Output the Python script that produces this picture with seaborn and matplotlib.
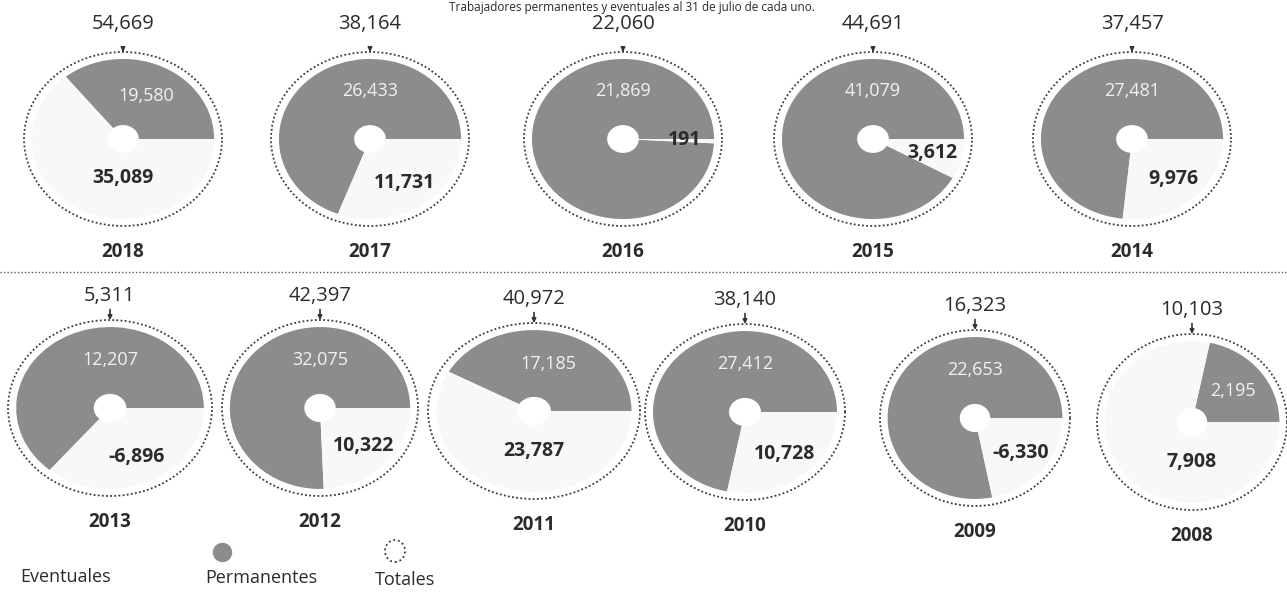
import matplotlib
matplotlib.use('Agg')
import numpy as np
import matplotlib.pyplot as plt
from matplotlib.lines import Line2D
from matplotlib.patches import Ellipse
import seaborn as sns

# datos: trabajadores permanentes y eventuales (variacion al 31 de julio)
anios_arriba = [2018, 2017, 2016, 2015, 2014]
perm_arriba = [19580, 26433, 21869, 41079, 27481]
event_arriba = [35089, 11731, 191, 3612, 9976]

anios_abajo = [2013, 2012, 2011, 2010, 2009, 2008]
perm_abajo = [12207, 32075, 17185, 27412, 22653, 2195]
event_abajo = [-6896, 10322, 23787, 10728, -6330, 7908]

leyenda = ['Eventuales', 'Permanentes', 'Totales']

sns.set_theme(style='white')
plt.rcParams['font.family'] = ['Open Sans', 'DejaVu Sans']

gris = '#8c8c8c'
blanco = '#f8f8f8'
texto = '#2b2b2b'

W, H = 1287, 592
fig = plt.figure(figsize=(W / 100, H / 100), dpi=100)
fig.patch.set_facecolor('white')


def caja(cx, cy, w, h, m=1.04):
    # rectangulo en pixeles (desde arriba) -> fraccion de figura
    w2, h2 = w * m, h * m
    return [(cx - w2 / 2) / W, 1 - (cy + h2 / 2) / H, w2 / W, h2 / H]


def angulo_etiqueta(cuna, defecto):
    abertura = cuna.theta2 - cuna.theta1
    if abertura > 180:
        return defecto
    return (cuna.theta1 + cuna.theta2) / 2


def dibujar_pastel(rect, anio, perm, event, y_total=1.32, y_anio=-1.3):
    ax = fig.add_axes(rect)
    total = perm + event

    # anillo punteado de totales
    ax.pie([total], radius=1.0, colors=['none'], startangle=90,
           wedgeprops=dict(fill=False, edgecolor='#3a3a3a',
                           linestyle=(0, (1, 1.3)), linewidth=1.3))
    cunas, _ = ax.pie([abs(perm), abs(event)], radius=0.92, colors=[gris, blanco],
                      startangle=0, counterclock=True, wedgeprops=dict(linewidth=0))
    ax.pie([1], radius=0.16, colors=['white'], wedgeprops=dict(linewidth=0))

    ax.set_aspect('auto')
    ax.set_xlim(-1.04, 1.04)
    ax.set_ylim(-1.04, 1.04)
    ax.axis('off')

    a = np.deg2rad(angulo_etiqueta(cunas[0], 90))
    ax.text(0.55 * np.cos(a), 0.55 * np.sin(a), f'{perm:,}', color='#f2f2f2',
            fontsize=13, ha='center', va='center')
    a = np.deg2rad(angulo_etiqueta(cunas[1], 270))
    r = 0.62 if abs(np.cos(a)) > 0.2 else 0.45
    ax.text(r * np.cos(a), r * np.sin(a), f'{event:,}', color=texto,
            fontsize=14, fontweight='bold', ha='center', va='center')

    ax.annotate(f'{total:,}', xy=(0, 1.0), xytext=(0, y_total), ha='center', va='center',
                fontsize=14.5, color=texto, annotation_clip=False,
                arrowprops=dict(arrowstyle='-|>', color='#333333', lw=1.2,
                                mutation_scale=6, shrinkA=9, shrinkB=0))
    ax.text(0, y_anio, str(anio), ha='center', va='center', fontsize=13.5,
            fontweight='bold', color=texto)


centros_arriba = [123, 370, 623, 873, 1132]
for cx, anio, p, e in zip(centros_arriba, anios_arriba, perm_arriba, event_arriba):
    dibujar_pastel(caja(cx, 139, 198, 174), anio, p, e)

centros_abajo = [(110, 408, 204), (320, 408, 196), (534, 411, 212),
                 (745, 412, 200), (975, 418, 190), (1192, 422, 190)]
for (cx, cy, w), anio, p, e in zip(centros_abajo, anios_abajo, perm_abajo, event_abajo):
    dibujar_pastel(caja(cx, cy, w, 176), anio, p, e, y_total=1.27, y_anio=-1.3)

# separador punteado entre filas
fig.add_artist(Line2D([0, 1], [1 - 272 / H] * 2, transform=fig.transFigure,
                      color='#555555', linestyle=(0, (1, 1.5)), linewidth=1.0))

# titulo (en el original queda recortado en el borde superior)
fig.text(815 / W, 1 - 1 / H, 'Trabajadores permanentes y eventuales al 31 de julio de cada uno.',
         ha='right', va='top', fontsize=8.5, color=texto)

# leyenda
fig.text(20 / W, 1 - 577 / H, leyenda[0], fontsize=13, color=texto, va='center')
fig.add_artist(Line2D([222 / W], [1 - 552 / H], transform=fig.transFigure, marker='o',
                      markersize=14, color=gris, markeredgewidth=0, linestyle='none'))
fig.text(205 / W, 1 - 578 / H, leyenda[1], fontsize=13, color=texto, va='center')
fig.add_artist(Ellipse((395 / W, 1 - 551 / H), 20 / W, 22 / H, transform=fig.transFigure,
                       fill=False, edgecolor='#333333', linewidth=1.3,
                       linestyle=(0, (1, 1.6))))
fig.text(375 / W, 1 - 580 / H, leyenda[2], fontsize=13, color=texto, va='center')

fig.savefig('out.png', dpi=100)
